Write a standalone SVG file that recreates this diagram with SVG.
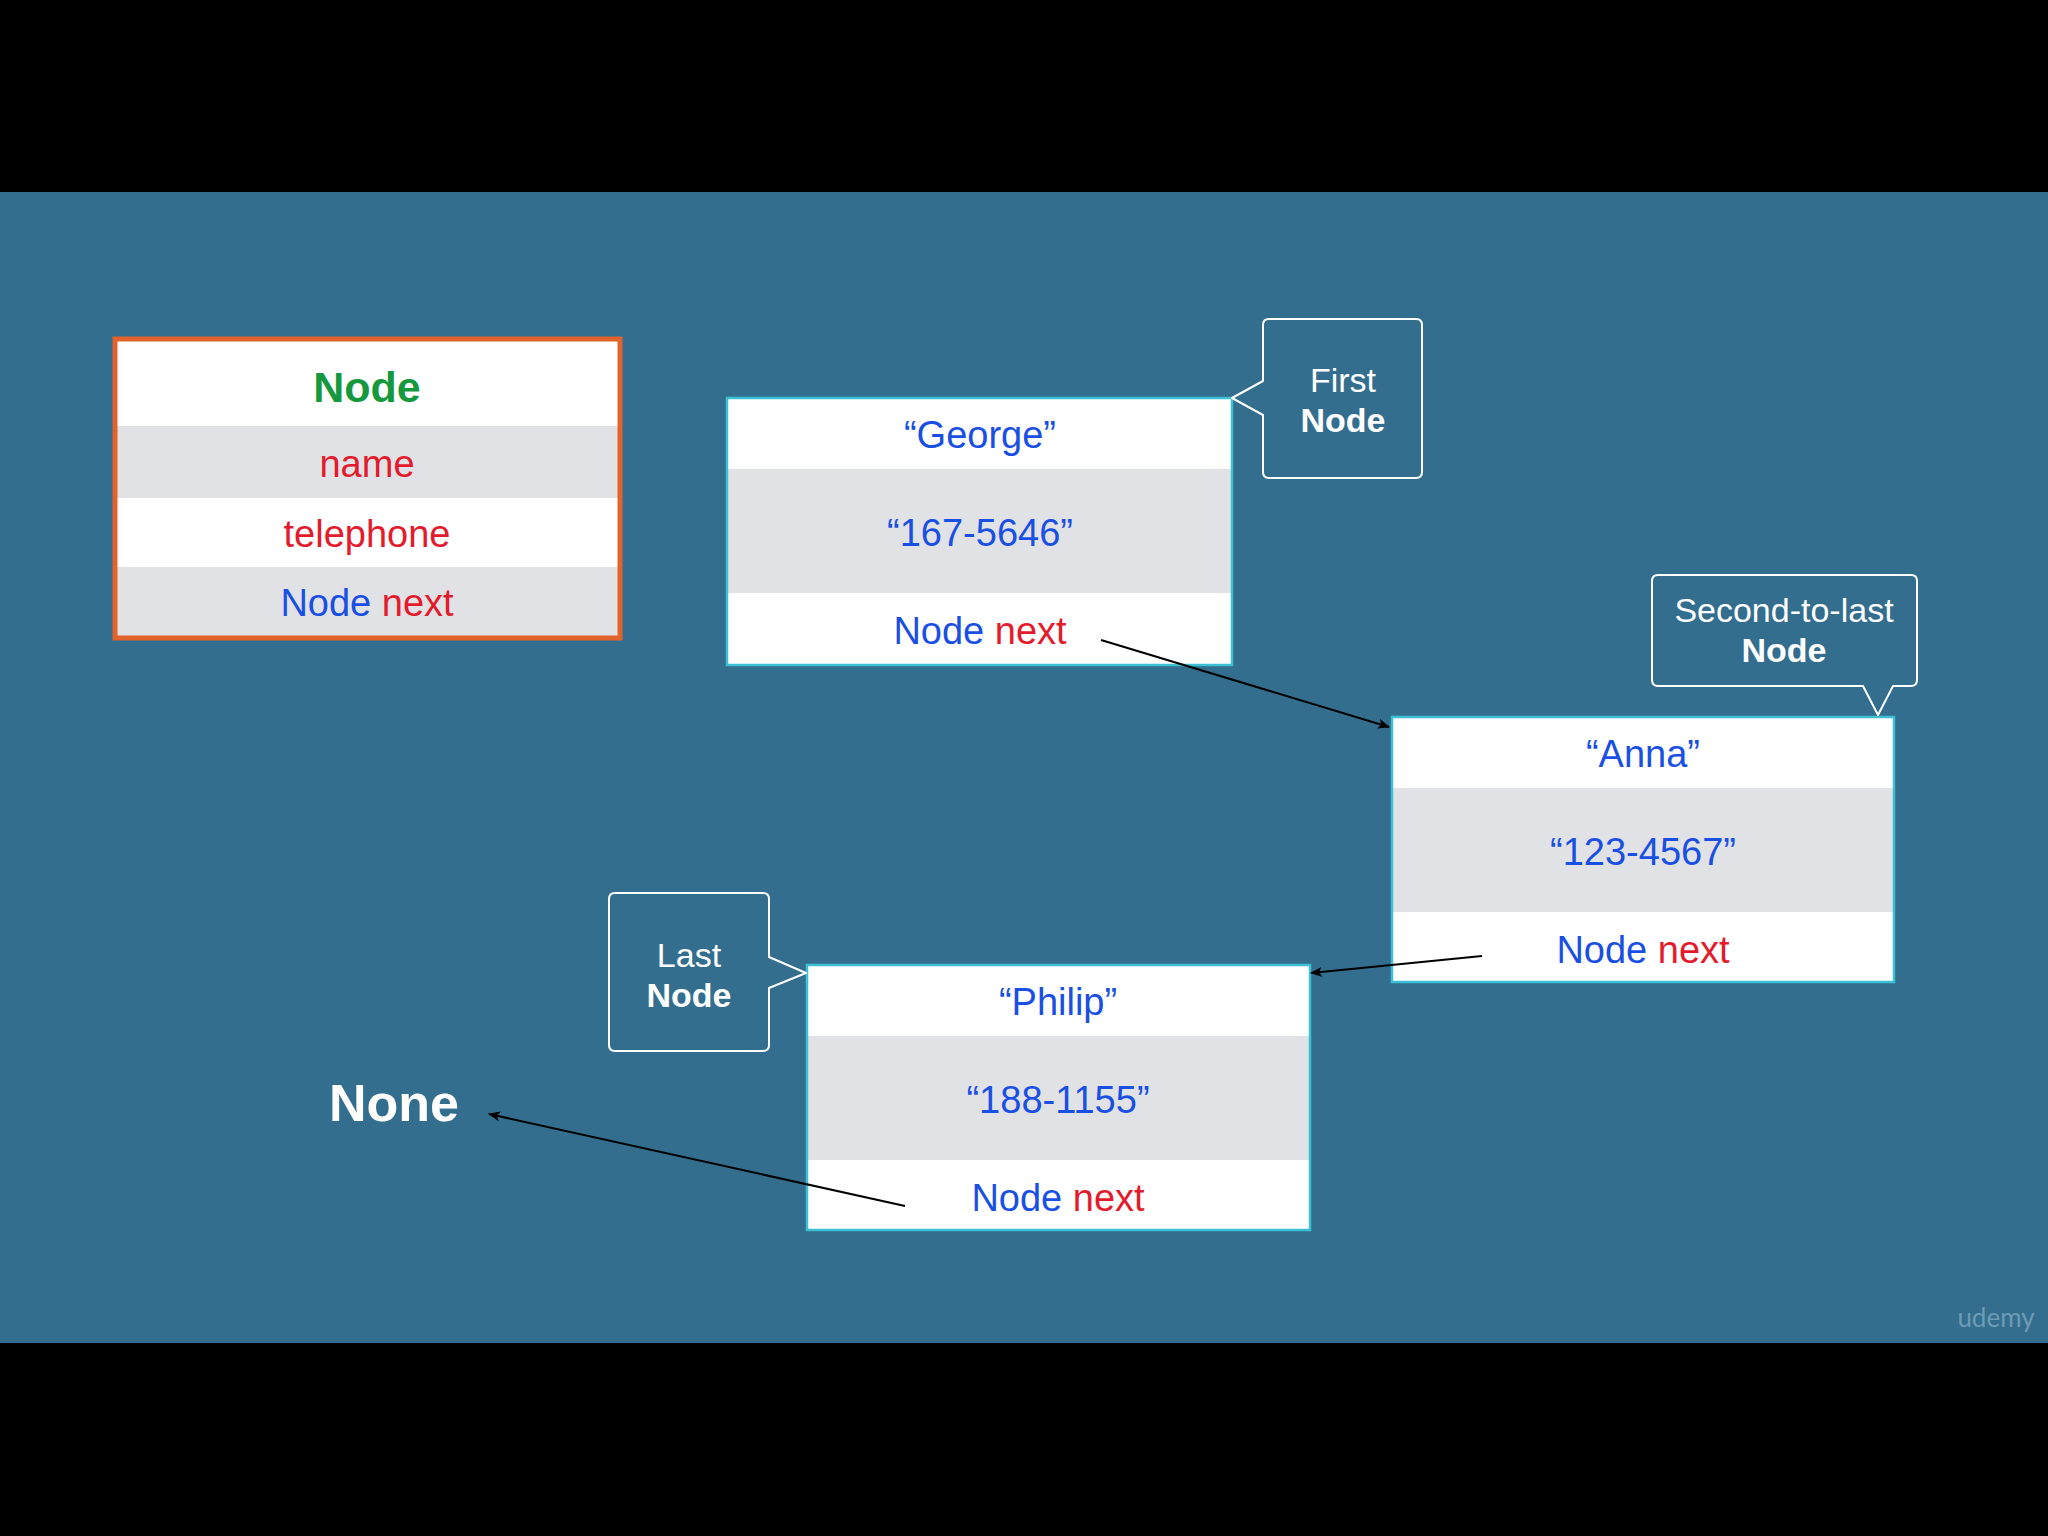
<svg xmlns="http://www.w3.org/2000/svg" width="2048" height="1536" viewBox="0 0 2048 1536">
  <style>
    .band { fill: #000000; }
    .bg { fill: #336e8e; }
    .white { fill: #ffffff; }
    .gray { fill: #e1e2e6; }
    .nodebox { fill: none; stroke: #3cc0d4; stroke-width: 2.5; }
    .legendbox { fill: none; stroke: #e2622c; stroke-width: 5; }
    .callout { fill: none; stroke: #ffffff; stroke-width: 2; stroke-linejoin: round; }
    .t { font-family: "Liberation Sans", Arial, sans-serif; text-anchor: middle; }
    .f38 { font-size: 38px; }
    .blue { fill: #1a4fe3; }
    .red { fill: #e31b2d; }
    .green { fill: #16993e; font-weight: bold; font-size: 43px; }
    .ct { fill: #ffffff; font-size: 34px; }
    .b { font-weight: bold; }
    .conn { stroke: #000000; stroke-width: 2; fill: none; marker-end: url(#arrow); }
  </style>
  <defs>
    <marker id="arrow" markerWidth="12" markerHeight="10" refX="11" refY="5" orient="auto" markerUnits="userSpaceOnUse">
      <path d="M0,0 L12,5 L0,10 L3,5 Z" fill="#000000"/>
    </marker>
  </defs>

  <rect class="band" x="0" y="0" width="2048" height="1536"/>
  <rect class="bg" x="0" y="192" width="2048" height="1151"/>

  <g id="legend">
    <rect class="white" x="117" y="341" width="501" height="85"/>
    <rect class="gray" x="117" y="426" width="501" height="72"/>
    <rect class="white" x="117" y="498" width="501" height="69"/>
    <rect class="gray" x="117" y="567" width="501" height="70"/>
    <rect class="legendbox" x="115" y="339" width="505" height="299"/>
    <text class="t green" x="367" y="402">Node</text>
    <text class="t f38 red" x="367" y="477">name</text>
    <text class="t f38 red" x="367" y="547">telephone</text>
    <text class="t f38" x="367" y="616"><tspan class="blue">Node</tspan> <tspan class="red">next</tspan></text>
  </g>

  <g id="node-george">
    <rect class="white" x="727" y="398" width="505" height="71"/>
    <rect class="gray" x="727" y="469" width="505" height="124"/>
    <rect class="white" x="727" y="593" width="505" height="72"/>
    <rect class="nodebox" x="727" y="398" width="505" height="267"/>
    <text class="t f38 blue" x="980" y="448">“George”</text>
    <text class="t f38 blue" x="980" y="546">“167-5646”</text>
    <text class="t f38" x="980" y="644"><tspan class="blue">Node</tspan> <tspan class="red">next</tspan></text>
  </g>

  <g id="callout-first">
    <path class="callout" d="M1269,319 H1416 Q1422,319 1422,325 V472 Q1422,478 1416,478 H1269 Q1263,478 1263,472 V415 L1232,398 L1263,381 V325 Q1263,319 1269,319 Z"/>
    <text class="t ct" x="1343" y="392">First</text>
    <text class="t ct b" x="1343" y="432">Node</text>
  </g>

  <g id="node-anna">
    <rect class="white" x="1392" y="717" width="502" height="71"/>
    <rect class="gray" x="1392" y="788" width="502" height="124"/>
    <rect class="white" x="1392" y="912" width="502" height="70"/>
    <rect class="nodebox" x="1392" y="717" width="502" height="265"/>
    <text class="t f38 blue" x="1643" y="767">“Anna”</text>
    <text class="t f38 blue" x="1643" y="865">“123-4567”</text>
    <text class="t f38" x="1643" y="963"><tspan class="blue">Node</tspan> <tspan class="red">next</tspan></text>
  </g>

  <g id="callout-second">
    <path class="callout" d="M1658,575 H1911 Q1917,575 1917,581 V680 Q1917,686 1911,686 H1893 L1878,715 L1863,686 H1658 Q1652,686 1652,680 V581 Q1652,575 1658,575 Z"/>
    <text class="t ct" x="1784" y="622">Second-to-last</text>
    <text class="t ct b" x="1784" y="662">Node</text>
  </g>

  <g id="node-philip">
    <rect class="white" x="807" y="965" width="503" height="71"/>
    <rect class="gray" x="807" y="1036" width="503" height="124"/>
    <rect class="white" x="807" y="1160" width="503" height="70"/>
    <rect class="nodebox" x="807" y="965" width="503" height="265"/>
    <text class="t f38 blue" x="1058" y="1015">“Philip”</text>
    <text class="t f38 blue" x="1058" y="1113">“188-1155”</text>
    <text class="t f38" x="1058" y="1211"><tspan class="blue">Node</tspan> <tspan class="red">next</tspan></text>
  </g>

  <g id="callout-last">
    <path class="callout" d="M615,893 H763 Q769,893 769,899 V957 L806,973 L769,988 V1045 Q769,1051 763,1051 H615 Q609,1051 609,1045 V899 Q609,893 615,893 Z"/>
    <text class="t ct" x="689" y="967">Last</text>
    <text class="t ct b" x="689" y="1007">Node</text>
  </g>

  <g id="none">
    <text class="t b" x="394" y="1121" font-size="52" fill="#ffffff">None</text>
  </g>

  <g id="connectors">
    <line class="conn" x1="1101" y1="640" x2="1389" y2="727"/>
    <line class="conn" x1="1482" y1="956" x2="1311" y2="973"/>
    <line class="conn" x1="905" y1="1206" x2="489" y2="1114"/>
  </g>

  <text x="1996" y="1327" font-family="Lato, 'Open Sans', sans-serif" font-size="26" fill="#6e9bb6" text-anchor="middle">udemy</text>
</svg>
